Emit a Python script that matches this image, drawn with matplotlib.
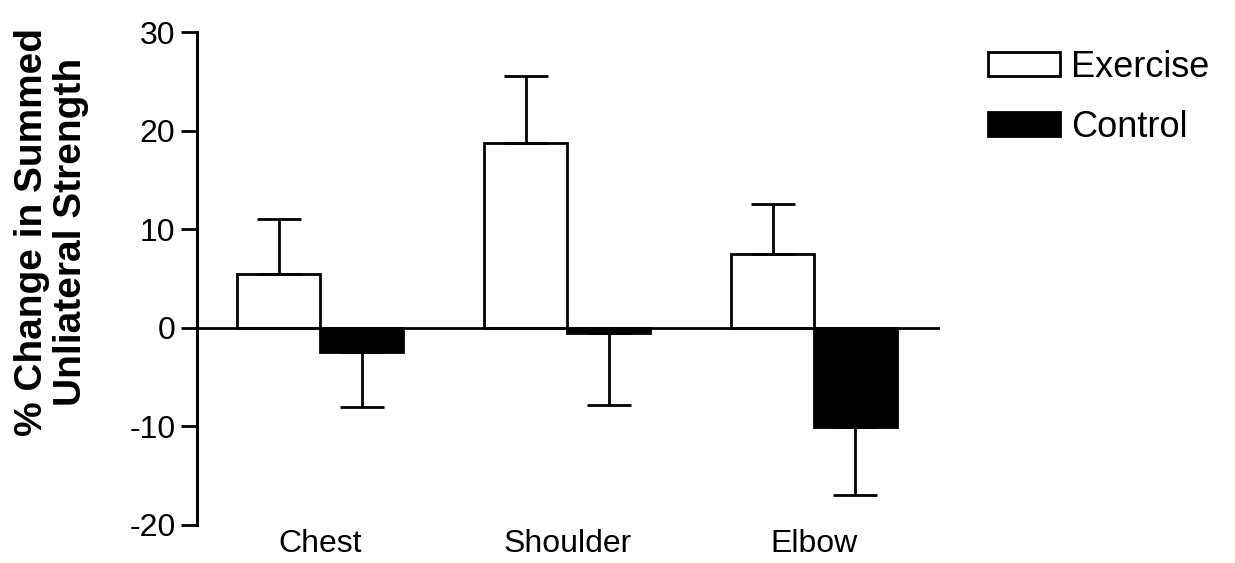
import matplotlib.pyplot as plt
from matplotlib.patches import Patch
import numpy as np

plt.rcParams['font.family'] = ['Liberation Sans', 'DejaVu Sans']
plt.rcParams['axes.unicode_minus'] = False

# %%
# Data: mean % change and SEM per muscle group

groups = ['Chest', 'Shoulder', 'Elbow']
exercise_mean = [5.5, 18.7, 7.5]
exercise_sem = [5.5, 6.8, 5.1]
control_mean = [-2.5, -0.5, -10.1]
control_sem = [5.5, 7.3, 6.9]
yticks = [-20, -10, 0, 10, 20, 30]

# %%
# Plot

fig = plt.figure(figsize=(12.35, 5.63), dpi=100)
ax = fig.add_axes([0.1595, 0.0675, 0.6015, 0.8755])

x = np.arange(len(groups))
w = 0.336
lw = 2.0

ax.bar(x - w / 2, exercise_mean, w, color='white', edgecolor='black', linewidth=lw, zorder=2)
ax.bar(x + w / 2, control_mean, w, color='black', edgecolor='black', linewidth=lw, zorder=2)

# one-sided error bars, away from zero
zeros = np.zeros(len(groups))
ax.errorbar(x - w / 2, exercise_mean, yerr=[zeros, exercise_sem], fmt='none',
            ecolor='black', elinewidth=lw, capsize=16, capthick=lw, zorder=3)
ax.errorbar(x + w / 2, control_mean, yerr=[control_sem, zeros], fmt='none',
            ecolor='black', elinewidth=lw, capsize=16, capthick=lw, zorder=3)

ax.axhline(0, color='black', linewidth=lw, zorder=4)

ax.set_xlim(-0.5, 2.51)
ax.set_ylim(-20, 30)
ax.set_yticks(yticks)
ax.set_yticklabels([str(t) for t in yticks])
ax.set_xticks(x)
ax.set_xticklabels(groups)

for side in ['top', 'right', 'bottom']:
    ax.spines[side].set_visible(False)
ax.spines['left'].set_linewidth(2.2)
ax.spines['left'].set_bounds(-20, 30)

ax.tick_params(axis='y', direction='out', length=11.5, width=2.0, labelsize=23, pad=4)
ax.tick_params(axis='x', length=0, labelsize=23, pad=3)

ax.set_ylabel('% Change in Summed\nUnliateral Strength', fontsize=28, fontweight='bold',
              linespacing=1.1)
ax.yaxis.set_label_coords(-0.145, 0.594)

handles = [Patch(facecolor='white', edgecolor='black', linewidth=lw, label='Exercise'),
           Patch(facecolor='black', edgecolor='black', linewidth=lw, label='Control')]
fig.legend(handles=handles, loc='upper left', bbox_to_anchor=(0.800, 0.912), frameon=False,
           fontsize=26, handlelength=2.0, handleheight=0.67, handletextpad=0.3,
           labelspacing=0.7, borderpad=0, borderaxespad=0)

fig.savefig('out.png', dpi=100)
